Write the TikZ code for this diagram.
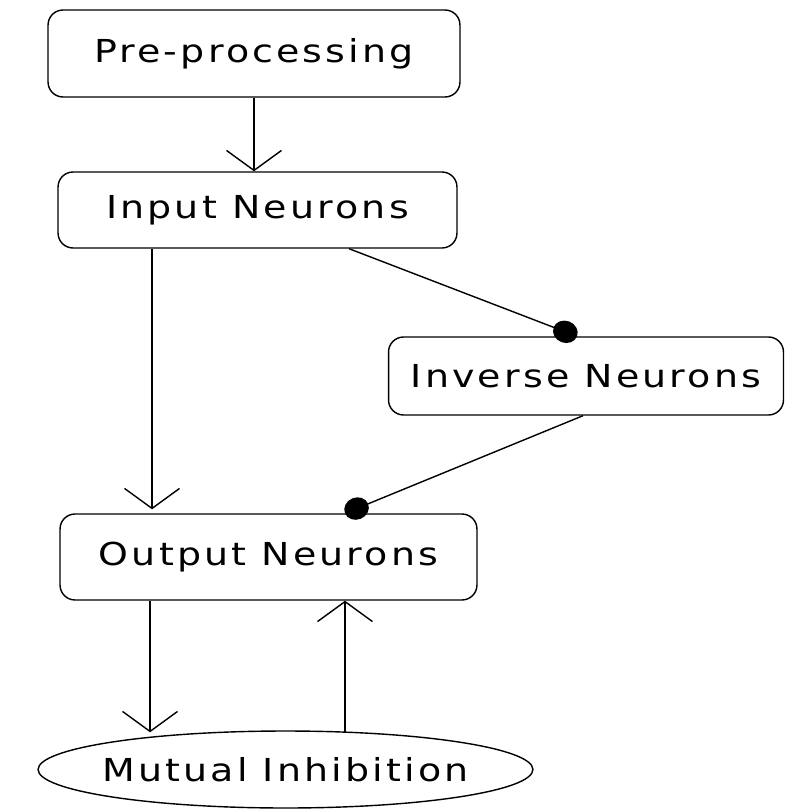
\documentclass[tikz,border=0pt]{standalone}
\usepackage{fontspec}
\setmainfont{DejaVu Sans}[FakeStretch=1.2, LetterSpace=10]
\usepackage{tikz}
\usetikzlibrary{arrows.meta}
\usetikzlibrary{positioning}
\usetikzlibrary{shapes.geometric}
\tikzset{procbox/.style = {draw, rounded corners = 0.3cm, inner sep = 0, font = \fontsize{18}{20}\selectfont}}
\tikzset{oval/.style = {draw, ellipse, inner xsep = -1cm, inner ysep = 0, font = \fontsize{18}{20}\selectfont}}
\tikzset{flow/.style = {-{Straight Barb[length=4mm, width=11mm]}}}
\tikzset{inhib/.style = {-{Circle[length=5mm, width=4.4mm]}}}

\begin{document}
\begin{tikzpicture}[x=0.02cm, y=-0.02cm, line width=0.8pt]
      \useasboundingbox (0, 0) rectangle (786, 810);

      \node [procbox, minimum width=8.24cm, minimum height=1.74cm] (pre) at (254, 53.5) {Pre-processing};
      \node [procbox, minimum width=7.98cm, minimum height=1.52cm] (in) at (257.5, 210) {Input Neurons};
      \node [procbox, minimum width=7.9cm, minimum height=1.56cm] (inv) at (586, 376) {Inverse Neurons};
      \node [procbox, minimum width=8.34cm, minimum height=1.72cm] (out) at (268.5, 557) {Output Neurons};
      \node [oval, minimum width=9.9cm, minimum height=1.54cm] (mut) at (285.5, 769.5) {Mutual Inhibition};

      \draw [flow] (pre.south) -- (pre.south |- in.north);
      \draw [flow] ([xshift=-2.11cm]in.south) -- ([xshift=-2.11cm, yshift=0.08cm]in.south |- out.north);
      \draw [inhib] ([xshift=1.83cm]in.south) -- ([xshift=-0.18cm]inv.north);
      \draw [inhib] ([xshift=-0.06cm]inv.south) -- ([xshift=1.53cm]out.north);

      \draw [flow] ([xshift=-2.37cm]out.south) -- ([xshift=-2.37cm, yshift=-0.04cm]out.south |- mut.north);
      \draw [flow] ([xshift=1.53cm, yshift=-0.04cm]out.south |- mut.north) -- ([xshift=1.53cm]out.south);
    \end{tikzpicture}
\end{document}
